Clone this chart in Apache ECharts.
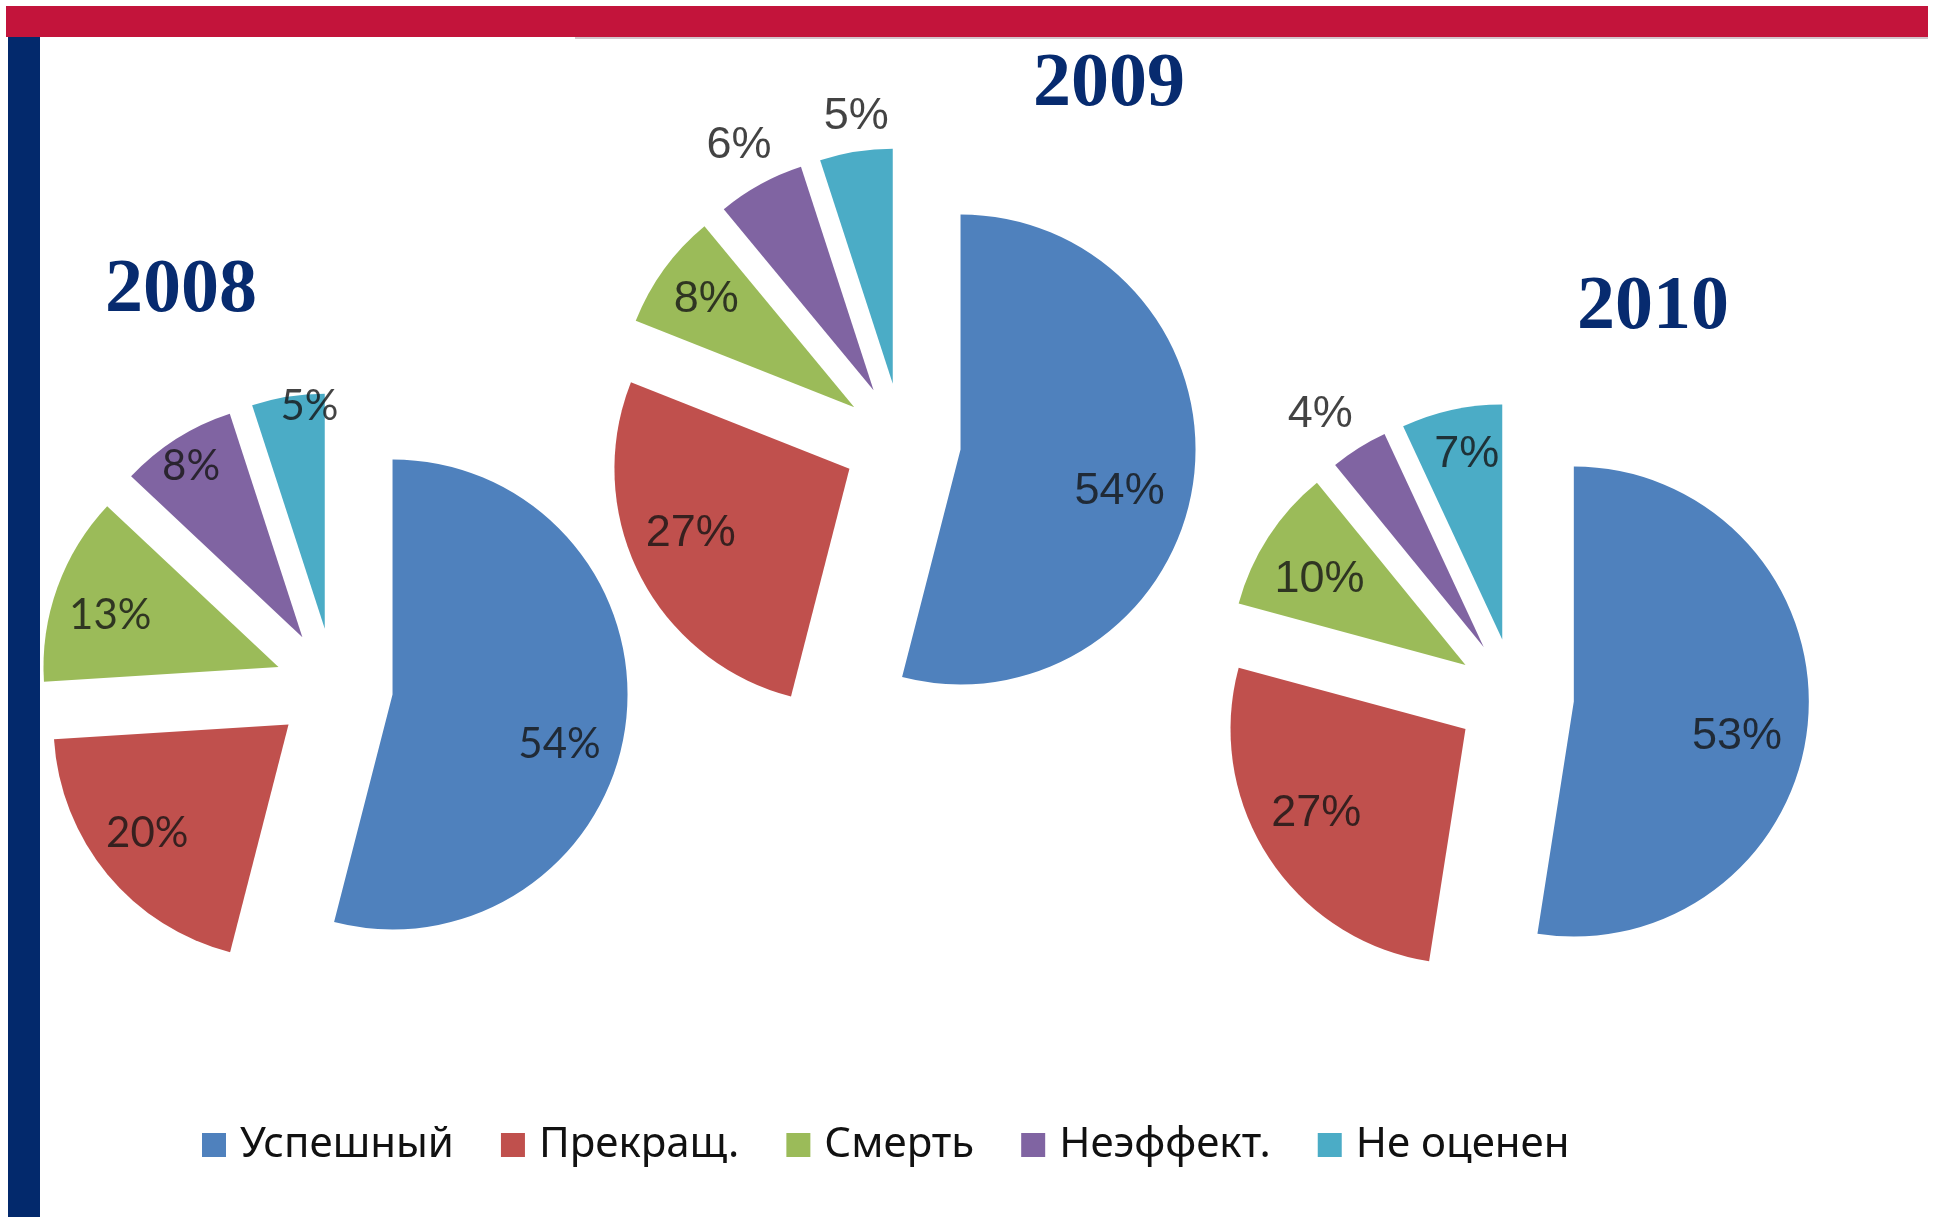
<!DOCTYPE html>
<html>
<head>
<meta charset="utf-8">
<script src="https://cdn.jsdelivr.net/npm/echarts@6/dist/echarts.min.js"></script>
<style>
html, body { margin: 0; padding: 0; background: #fff; }
#chart { width: 1940px; height: 1217px; }
</style>
</head>
<body>
<div id="chart"></div>
<script>
// исходы лечения, % по годам
const categories = ['Успешный', 'Прекращ.', 'Смерть', 'Неэффект.', 'Не оценен'];
const years = ['2008', '2009', '2010'];
const values2008 = [54, 20, 13, 8, 5];
const values2009 = [54, 27, 8, 6, 5];
const values2010 = [53, 27, 10, 4, 7];

const colors = ['#4f81bd', '#c0504d', '#9bbb59', '#8064a2', '#4bacc6'];
const radius = 235;
const explode = 59;

// pie placement + where Excel put each label (share of radius, turn from slice middle in deg)
const pies = [
    { values: values2008, center: [334, 687], title: [181, 291],
      labelR: [0.99, 1.01, 1.0, 1.12, 1.2], labelTurn: [7, 1.5, -2, -0.5, 4],
      font: 'Lato', fontSize: 42 },
    { values: values2009, center: [902, 442], title: [1109, 85],
      labelR: [0.95, 0.98, 1.03, 1.44, 1.4], labelTurn: [5.7, 3.5, 0, 0, 1],
      font: 'Liberation Sans', fontSize: 45 },
    { values: values2010, center: [1515, 697], title: [1653, 308],
      labelR: [0.96, 0.98, 0.97, 1.46, 1.05], labelTurn: [5.7, 2.6, -2, -2.5, 1.2],
      font: 'Liberation Sans', fontSize: 45 }
]

// label points as [radius share, angle from top clockwise, value]
const labelPoints = (pie) => {
    const total = pie.values.reduce((a, b) => a + b, 0)
    let before = 0
    return pie.values.map((v, i) => {
        const mid = (before + v / 2) / total * 360 + pie.labelTurn[i]
        before += v
        return [pie.labelR[i], (mid + 360) % 360, v]
    })
}

const hidden = { show: false, axisLine: { show: false }, axisTick: { show: false }, axisLabel: { show: false }, splitLine: { show: false } }

const pieSeries = pies.map((pie, k) => ({
    name: years[k],
    type: 'pie',
    center: pie.center,
    radius: radius,
    startAngle: 90,
    clockwise: true,
    selectedMode: 'multiple',
    selectedOffset: explode,
    emphasis: { disabled: true },
    itemStyle: { borderWidth: 0 },
    label: { show: false },
    labelLine: { show: false },
    data: categories.map((name, i) => ({ name: name, value: pie.values[i], selected: true }))
}))

const labelSeries = pies.map((pie, k) => ({
    name: years[k] + ' %',
    type: 'scatter',
    coordinateSystem: 'polar',
    polarIndex: k,
    symbolSize: 1,
    itemStyle: { color: 'transparent' },
    z: 5,
    silent: true,
    label: {
        show: true,
        position: 'inside',
        formatter: (p) => p.value[2] + '%',
        fontFamily: pie.font,
        fontSize: pie.fontSize,
        color: '#141414',
        textBorderWidth: 0
    },
    data: labelPoints(pie)
}))

const titles = pies.map((pie, i) => ({
    type: 'text',
    x: pie.title[0],
    y: pie.title[1],
    z: 10,
    style: {
        text: years[i],
        align: 'center',
        verticalAlign: 'middle',
        font: 'bold 76px "Liberation Serif"',
        fill: '#072b6f'
    }
}))

const myChart = echarts.init(document.getElementById('chart'))

const option = {
    animation: false,
    color: colors,
    polar: pies.map((pie) => ({ center: pie.center, radius: radius * 2 })),
    angleAxis: pies.map((pie, k) => ({ polarIndex: k, type: 'value', min: 0, max: 360, startAngle: 90, clockwise: true, ...hidden })),
    radiusAxis: pies.map((pie, k) => ({ polarIndex: k, type: 'value', min: 0, max: 2, ...hidden })),
    legend: {
        data: categories,
        left: 202,
        top: 1124,
        padding: 0,
        itemWidth: 24,
        itemHeight: 24,
        itemGap: 47,
        icon: 'rect',
        selectedMode: false,
        textStyle: {
            fontFamily: 'Noto Sans',
            fontSize: 42,
            color: '#111',
            padding: [0, 0, 0, 9]
        }
    },
    graphic: [
        { type: 'rect', shape: { x: 6, y: 6, width: 1922, height: 31 }, style: { fill: '#c3143b' } },
        { type: 'rect', shape: { x: 8, y: 37, width: 32, height: 1180 }, style: { fill: '#03296c' } },
        { type: 'rect', shape: { x: 575, y: 37, width: 1353, height: 2 }, style: { fill: '#d3c6cc' } },
        ...titles
    ],
    series: [...pieSeries, ...labelSeries]
}

myChart.setOption(option)
window.addEventListener('resize', () => myChart.resize())
</script>
</body>
</html>
